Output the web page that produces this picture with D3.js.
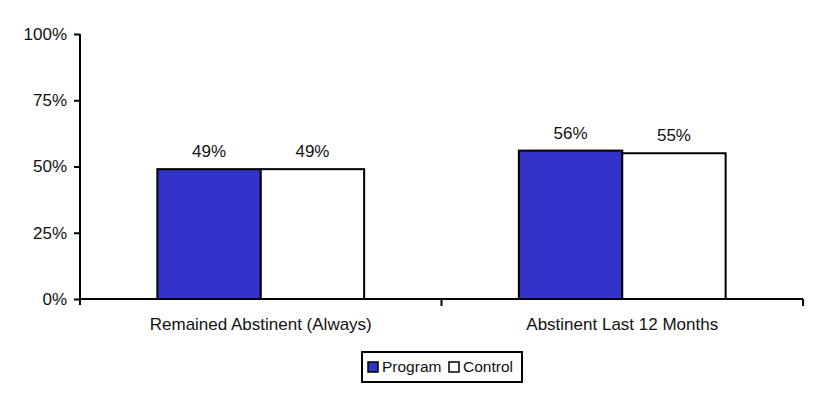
<html>
<head>
  <meta charset="UTF-8">
  <script src="https://d3js.org/d3.v7.min.js"></script>
  <style>
    body { margin: 0; background: #fff; }
    text { font-family: "Liberation Sans", Arial, sans-serif; fill: #111; }
  </style>
</head>
<body>
  <svg id="chart" width="820" height="394"></svg>
  <script>
    // data
    const categories = ["Remained Abstinent (Always)", "Abstinent Last 12 Months"];
    const seriesNames = ["Program", "Control"];
    const programValues = [49, 56];
    const controlValues = [49, 55];
    const yTicks = [0, 25, 50, 75, 100];
    const colors = ["#3333cc", "#ffffff"];

    const svg = d3.select("svg#chart");
    const margins = { top: 34, right: 17, bottom: 95, left: 80 };
    const width = +svg.attr("width");
    const height = +svg.attr("height");
    const graphWidth = width - margins.left - margins.right;
    const graphHeight = height - margins.top - margins.bottom;
    const font = "Liberation Sans, Arial, sans-serif";

    const rows = categories.map((c, i) => ({ cat: c, values: [programValues[i], controlValues[i]] }));

    const xScale = d3.scaleBand().domain(categories).range([0, graphWidth]).paddingInner(0).paddingOuter(0);
    const innerScale = d3.scaleBand().domain(seriesNames)
      .range([xScale.bandwidth() * 0.214, xScale.bandwidth() * 0.786]);
    const yScale = d3.scaleLinear().domain([0, 100]).range([graphHeight, 0]);

    const g = svg.append("g").attr("transform", `translate(${margins.left},${margins.top})`);

    // bars
    const groups = g.selectAll("g.group").data(rows).join("g")
      .attr("class", "group")
      .attr("transform", d => `translate(${xScale(d.cat)},0)`);

    groups.selectAll("rect").data(d => d.values.map((v, i) => ({ v: v, s: seriesNames[i], i: i })))
      .join("rect")
      .attr("x", d => innerScale(d.s))
      .attr("y", d => yScale(d.v))
      .attr("width", innerScale.bandwidth())
      .attr("height", d => yScale(0) - yScale(d.v))
      .attr("fill", d => colors[d.i])
      .attr("stroke", "#000")
      .attr("stroke-width", 2);

    groups.selectAll("text.val").data(d => d.values.map((v, i) => ({ v: v, s: seriesNames[i] })))
      .join("text").attr("class", "val")
      .attr("x", d => innerScale(d.s) + innerScale.bandwidth() / 2)
      .attr("y", d => yScale(d.v) - 12)
      .attr("text-anchor", "middle")
      .attr("font-size", "17px")
      .text(d => d.v + "%");

    // y axis
    const leftAxis = d3.axisLeft(yScale).tickValues(yTicks).tickFormat(d => d + "%").tickSize(6).tickPadding(7);
    const yAxisG = g.append("g").call(leftAxis);
    yAxisG.select(".domain").attr("d", `M0,0V${graphHeight + 6}`).attr("stroke-width", 2);
    yAxisG.selectAll(".tick line").attr("stroke-width", 2);
    yAxisG.selectAll(".tick text").attr("font-size", "17px").attr("font-family", font).attr("fill", "#111");

    // x axis
    const bottomAxis = d3.axisBottom(xScale).tickSize(0).tickPadding(19);
    const xAxisG = g.append("g").attr("transform", `translate(0,${graphHeight})`).call(bottomAxis);
    xAxisG.select(".domain").attr("d", `M0,0H${graphWidth}`).attr("stroke-width", 2);
    xAxisG.selectAll(".tick text").attr("font-size", "17px").attr("font-family", font).attr("fill", "#111");
    // category separator ticks
    xAxisG.selectAll("line.sep").data(categories.slice(1).concat(["end"]))
      .join("line").attr("class", "sep")
      .attr("x1", d => d === "end" ? graphWidth : xScale(d))
      .attr("x2", d => d === "end" ? graphWidth : xScale(d))
      .attr("y1", 0).attr("y2", 7)
      .attr("stroke", "#000").attr("stroke-width", 2);

    // legend
    const legend = svg.append("g").attr("transform", "translate(362,352)");
    legend.append("rect").attr("width", 160).attr("height", 30)
      .attr("fill", "#fff").attr("stroke", "#000").attr("stroke-width", 2);
    const legendX = [6, 87];
    seriesNames.forEach((s, i) => {
      legend.append("rect").attr("x", legendX[i]).attr("y", 10).attr("width", 10).attr("height", 10)
        .attr("fill", colors[i]).attr("stroke", "#000").attr("stroke-width", 1.5);
      legend.append("text").attr("x", legendX[i] + 14).attr("y", 20)
        .attr("font-size", "15.5px").text(s);
    });
  </script>
</body>
</html>
